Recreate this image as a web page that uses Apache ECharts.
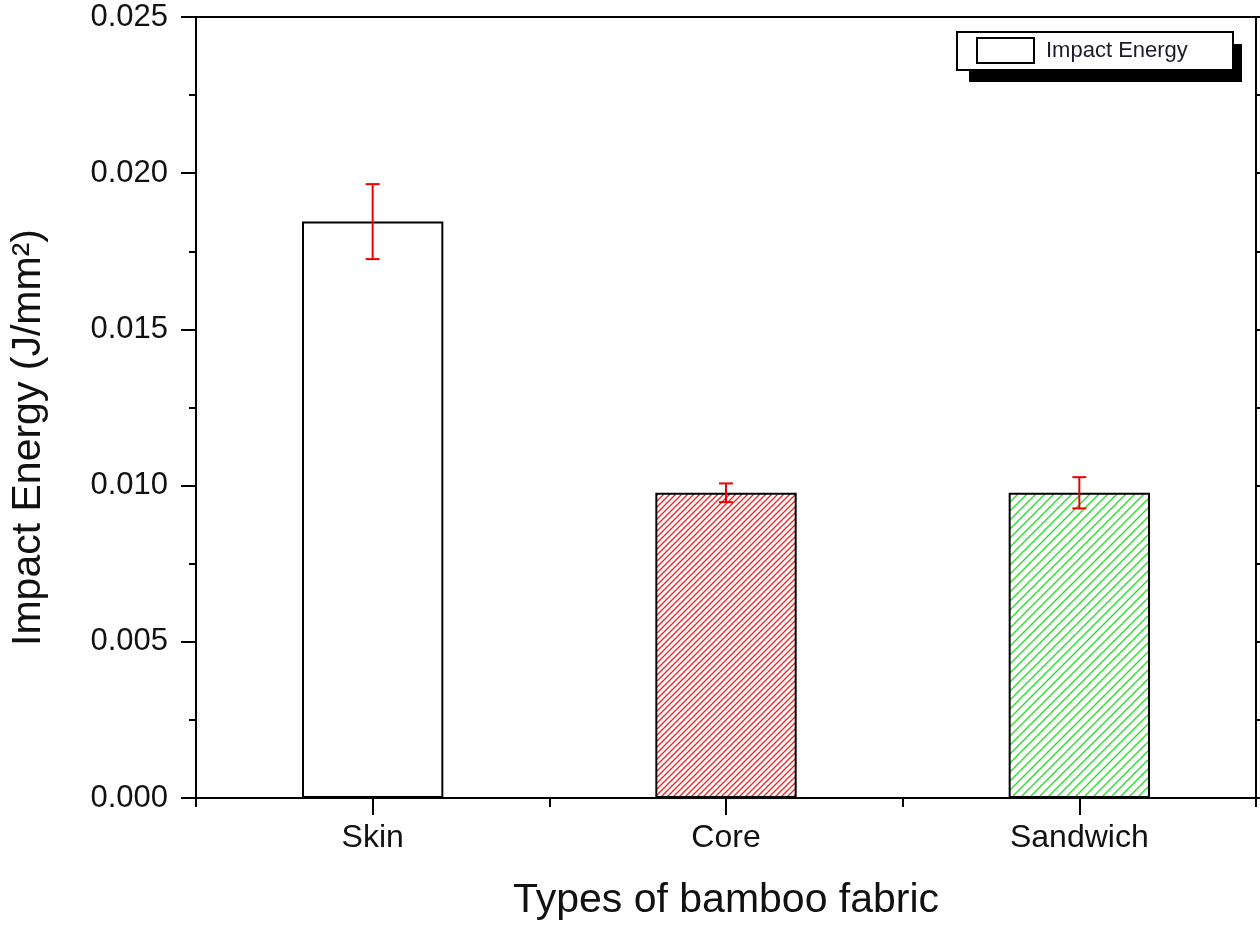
<!DOCTYPE html>
<html>
<head>
<meta charset="utf-8">
<script src="https://cdn.jsdelivr.net/npm/echarts@6/dist/echarts.min.js"></script>
<style>
  html, body { margin: 0; padding: 0; background: #fff; }
  #chart { width: 1260px; height: 926px; }
</style>
</head>
<body>
<div id="chart"></div>
<script>
const categories = ['Skin', 'Core', 'Sandwich'];
const impactEnergy = [0.01845, 0.00977, 0.00977];
const errorValues = [0.0012, 0.0003, 0.0005];
const yTicks = [0, 0.005, 0.010, 0.015, 0.020, 0.025];
const legendName = 'Impact Energy';

// diagonal hatch tile, "/" direction
const makeHatch = (size, color) => {
  const c = document.createElement('canvas');
  c.width = size;
  c.height = size;
  const ctx = c.getContext('2d');
  ctx.strokeStyle = color;
  ctx.lineWidth = 1.3;
  ctx.beginPath();
  ctx.moveTo(0, size); ctx.lineTo(size, 0);
  ctx.moveTo(-2, 2); ctx.lineTo(2, -2);
  ctx.moveTo(size - 2, size + 2); ctx.lineTo(size + 2, size - 2);
  ctx.stroke();
  return c;
}

const fills = [
  '#ffffff',
  { image: makeHatch(6, '#ff1a1a'), repeat: 'repeat' },
  { image: makeHatch(9, '#22dd22'), repeat: 'repeat' },
];

const font = 'Liberation Sans, Arial, sans-serif';

const chart = echarts.init(document.getElementById('chart'));

const option = {
  backgroundColor: '#fff',
  animation: false,
  grid: { left: 193, right: 4, top: 17, bottom: 125, show: true, borderColor: '#000', borderWidth: 2 },
  // legend box with the drop shadow, Origin style
  graphic: [
    { type: 'rect', z: 10, shape: { x: 969, y: 44, width: 273, height: 38 }, style: { fill: '#000' } },
    { type: 'rect', z: 11, shape: { x: 957, y: 32, width: 276, height: 38 }, style: { fill: '#fff', stroke: '#000', lineWidth: 2 } },
    { type: 'rect', z: 12, shape: { x: 977, y: 38, width: 57, height: 25 }, style: { fill: '#fff', stroke: '#000', lineWidth: 2 } },
    {
      type: 'text', z: 12, x: 1046, y: 51,
      style: { text: legendName, font: '22px Liberation Sans, Arial, sans-serif', fill: '#1a1a2a', verticalAlign: 'middle' },
    },
  ],
  xAxis: [
    {
      type: 'category',
      data: categories,
      name: 'Types of bamboo fabric',
      nameLocation: 'middle',
      nameGap: 82,
      nameTextStyle: { fontFamily: font, fontSize: 41, color: '#111' },
      axisLine: { lineStyle: { color: '#000', width: 2 } },
      axisTick: { show: true, inside: false, length: 9, lineStyle: { color: '#000', width: 2 } },
      axisLabel: { fontFamily: font, fontSize: 32, color: '#111', margin: 24 },
    },
    {
      type: 'category',
      data: categories,
      position: 'bottom',
      axisLine: { show: false },
      axisTick: { show: true, alignWithLabel: true, length: 17, lineStyle: { color: '#000', width: 2 } },
      axisLabel: { show: false },
    },
  ],
  yAxis: [
    {
      type: 'value',
      min: yTicks[0],
      max: yTicks[yTicks.length - 1],
      interval: 0.005,
      name: 'Impact Energy (J/mm²)',
      nameLocation: 'middle',
      nameGap: 147,
      nameTextStyle: { fontFamily: font, fontSize: 41, color: '#111', padding: [0, 60, 0, 0] },
      axisLine: { show: true, lineStyle: { color: '#000', width: 2 } },
      axisTick: { show: true, length: 15, lineStyle: { color: '#000', width: 2 } },
      minorTick: { show: true, splitNumber: 2, length: 7, lineStyle: { color: '#000', width: 2 } },
      axisLabel: { fontFamily: font, fontSize: 31, color: '#111', margin: 28, formatter: (v) => v.toFixed(3) },
      splitLine: { show: false },
    },
    {
      type: 'value',
      position: 'right',
      min: yTicks[0],
      max: yTicks[yTicks.length - 1],
      interval: 0.005,
      axisLine: { show: true, lineStyle: { color: '#000', width: 2 } },
      axisTick: { show: true, length: 15, lineStyle: { color: '#000', width: 2 } },
      minorTick: { show: true, splitNumber: 2, length: 7, lineStyle: { color: '#000', width: 2 } },
      axisLabel: { show: false },
      splitLine: { show: false },
    },
  ],
  series: [
    {
      name: legendName,
      type: 'bar',
      barWidth: '40%',
      itemStyle: { color: '#fff', borderColor: '#000', borderWidth: 2 },
      data: impactEnergy.map((v, i) => ({
        value: v,
        itemStyle: { color: fills[i], borderColor: '#000', borderWidth: 2 },
      })),
    },
    {
      name: 'error',
      type: 'custom',
      z: 5,
      data: impactEnergy.map((v, i) => [i, v - errorValues[i], v + errorValues[i]]),
      renderItem: (params, api) => {
        const lo = api.coord([api.value(0), api.value(1)]);
        const hi = api.coord([api.value(0), api.value(2)]);
        const half = 7;
        const style = { stroke: '#ee0000', lineWidth: 2 };
        return {
          type: 'group',
          children: [
            { type: 'line', shape: { x1: hi[0], y1: hi[1], x2: lo[0], y2: lo[1] }, style },
            { type: 'line', shape: { x1: hi[0] - half, y1: hi[1], x2: hi[0] + half, y2: hi[1] }, style },
            { type: 'line', shape: { x1: lo[0] - half, y1: lo[1], x2: lo[0] + half, y2: lo[1] }, style },
          ],
        };
      },
    },
  ],
};

chart.setOption(option);
</script>
</body>
</html>
